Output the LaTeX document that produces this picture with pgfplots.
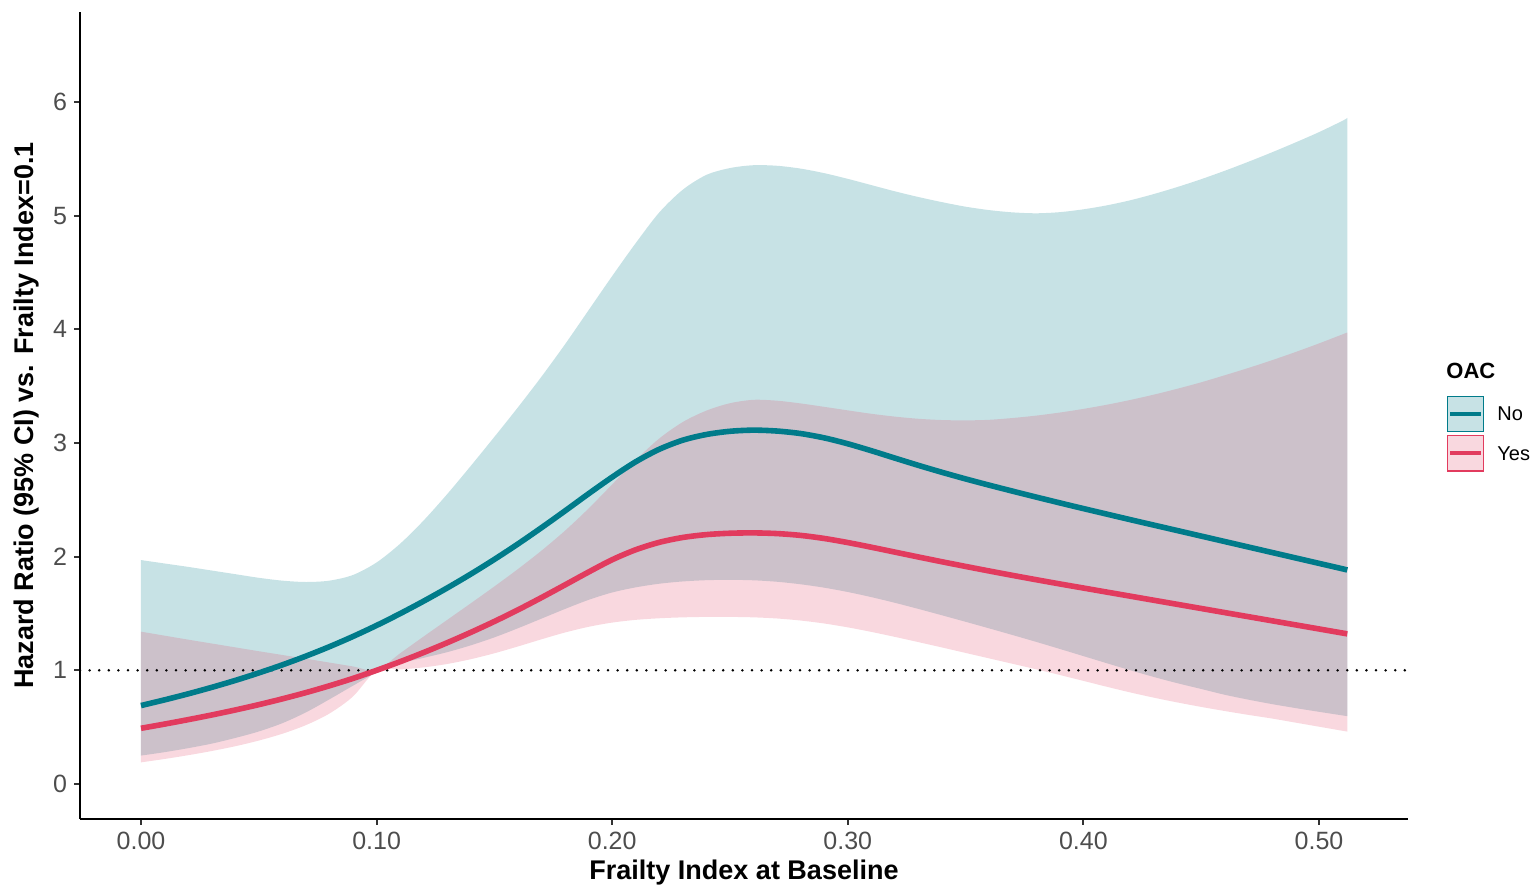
\documentclass[border=0pt]{standalone}
\usepackage{fontspec}
\setmainfont{Liberation Sans}
\usepackage{pgfplots}
\pgfplotsset{compat=1.18}
\usepackage{pgfplotstable}
\usepgfplotslibrary{fillbetween}

\definecolor{noline}{RGB}{0,123,138}
\definecolor{yesline}{RGB}{226,59,94}
\definecolor{ticktext}{RGB}{77,77,77}

% Hazard ratios with 95% CI by frailty index, for the two OAC groups
\pgfplotstableread{
x      no     nolo   nohi   yes    yeslo  yeshi
0.000  0.690  0.250  1.970  0.490  0.190  1.340
0.010  0.740  0.280  1.940  0.527  0.220  1.305
0.020  0.793  0.315  1.910  0.566  0.253  1.270
0.030  0.850  0.355  1.878  0.607  0.290  1.236
0.040  0.911  0.405  1.846  0.651  0.332  1.202
0.050  0.977  0.462  1.814  0.698  0.382  1.168
0.060  1.048  0.535  1.789  0.749  0.442  1.135
0.070  1.125  0.630  1.777  0.804  0.518  1.102
0.080  1.208  0.745  1.789  0.864  0.620  1.068
0.090  1.298  0.865  1.839  0.929  0.770  1.034
0.100  1.395  0.980  1.949  1.000  1.000  1.000
0.110  1.499  1.060  2.114  1.076  1.008  1.150
0.120  1.609  1.110  2.319  1.157  1.026  1.298
0.130  1.725  1.160  2.551  1.243  1.056  1.444
0.140  1.847  1.220  2.799  1.334  1.098  1.590
0.150  1.976  1.290  3.054  1.430  1.150  1.738
0.160  2.112  1.370  3.314  1.532  1.210  1.891
0.170  2.255  1.455  3.584  1.640  1.273  2.053
0.180  2.403  1.540  3.869  1.752  1.333  2.229
0.190  2.554  1.620  4.169  1.865  1.383  2.424
0.200  2.700  1.685  4.469  1.973  1.420  2.636
0.210  2.835  1.730  4.759  2.061  1.444  2.850
0.220  2.945  1.762  5.029  2.126  1.458  3.040
0.230  3.025  1.782  5.229  2.169  1.466  3.185
0.240  3.075  1.793  5.359  2.194  1.470  3.285
0.250  3.103  1.796  5.419  2.206  1.470  3.350
0.260  3.113  1.792  5.444  2.209  1.466  3.380
0.270  3.105  1.779  5.439  2.203  1.456  3.372
0.280  3.083  1.757  5.414  2.187  1.438  3.348
0.290  3.045  1.727  5.374  2.160  1.412  3.318
0.300  2.993  1.689  5.324  2.124  1.378  3.287
0.310  2.932  1.644  5.269  2.083  1.338  3.257
0.320  2.867  1.594  5.214  2.040  1.294  3.232
0.330  2.803  1.540  5.164  1.997  1.248  3.213
0.340  2.742  1.484  5.119  1.955  1.201  3.202
0.350  2.684  1.427  5.079  1.914  1.153  3.199
0.360  2.629  1.369  5.049  1.874  1.105  3.204
0.370  2.576  1.310  5.029  1.835  1.057  3.220
0.380  2.524  1.250  5.021  1.797  1.009  3.241
0.390  2.473  1.188  5.031  1.760  0.959  3.268
0.400  2.423  1.125  5.056  1.724  0.907  3.300
0.410  2.374  1.062  5.091  1.688  0.855  3.337
0.420  2.325  1.000  5.136  1.652  0.805  3.379
0.430  2.277  0.941  5.191  1.616  0.759  3.426
0.440  2.229  0.886  5.253  1.580  0.717  3.478
0.450  2.181  0.836  5.321  1.544  0.678  3.534
0.460  2.133  0.785  5.395  1.508  0.642  3.596
0.470  2.085  0.742  5.474  1.472  0.608  3.660
0.480  2.037  0.703  5.557  1.436  0.576  3.728
0.490  1.989  0.668  5.644  1.400  0.540  3.800
0.500  1.941  0.635  5.735  1.364  0.504  3.876
0.510  1.893  0.603  5.835  1.328  0.468  3.956
0.512  1.883  0.597  5.860  1.321  0.461  3.972
}\hrdata

\begin{document}
\begin{tikzpicture}
\begin{axis}[
  scale only axis,
  width=664pt, height=403.5pt,
  xmin=-0.02589, xmax=0.53778,
  ymin=-0.308, ymax=6.792,
  axis lines=left,
  axis line style={-, line width=1pt, black},
  tick align=outside,
  major tick length=3pt,
  tick style={line width=1pt, color=black!80},
  xtick={0,0.1,0.2,0.3,0.4,0.5},
  xticklabels={0.00,0.10,0.20,0.30,0.40,0.50},
  ytick={0,1,2,3,4,5,6},
  /pgf/number format/assume math mode=true,
  ticklabel style={font=\fontsize{12.5}{15}\selectfont, text=ticktext},
  xlabel={Frailty Index at Baseline},
  ylabel={Hazard Ratio (95\% CI) vs. Frailty Index=0.1},
  label style={font=\bfseries\fontsize{13.5}{16}\selectfont},
  xlabel style={at={(axis description cs:0.5,-0.0669)}, anchor=center},
  ylabel style={at={(axis description cs:-0.0399,0.5)}, anchor=center},
]
\coordinate (axtl) at (rel axis cs:0,1);

% confidence bands
\addplot[draw=none, name path=nolo, smooth] table[x=x, y=nolo] {\hrdata};
\addplot[draw=none, name path=nohi, smooth] table[x=x, y=nohi] {\hrdata};
\addplot[noline, fill opacity=0.22, draw=none] fill between[of=nolo and nohi];
\addplot[draw=none, name path=yeslo, smooth] table[x=x, y=yeslo] {\hrdata};
\addplot[draw=none, name path=yeshi, smooth] table[x=x, y=yeshi] {\hrdata};
\addplot[yesline, fill opacity=0.2, draw=none] fill between[of=yeslo and yeshi];

% reference line at HR = 1
\addplot[black, line width=1.4pt, line cap=round, dash pattern=on 0pt off 4.8pt]
  coordinates {(-0.02589,1) (0.53778,1)};

% point estimates
\addplot[noline, line width=2.8pt, smooth] table[x=x, y=no] {\hrdata};
\addplot[yesline, line width=2.8pt, smooth] table[x=x, y=yes] {\hrdata};
\end{axis}

% page frame and legend, in a pixel-like grid anchored at the top-left corner
\coordinate (O) at ([shift={(-40pt,6pt)}]axtl);
\begin{scope}[shift={(O)}, x=0.5pt, y=-0.5pt]
  \node[anchor=west, inner sep=0pt, font=\bfseries\fontsize{11}{13}\selectfont] at (1446,371) {OAC};
  \draw[noline, line width=0.8pt, fill=noline!22] (1447.5,396.5) rectangle (1483.5,431.5);
  \draw[noline, line width=2pt] (1450,414) -- (1481,414);
  \draw[yesline, line width=0.8pt, fill=yesline!20] (1447.5,435.5) rectangle (1483.5,471);
  \draw[yesline, line width=2pt] (1450,453.5) -- (1481,453.5);
  \node[anchor=west, inner sep=0pt, font=\fontsize{10}{12}\selectfont] at (1497,414) {No};
  \node[anchor=west, inner sep=0pt, font=\fontsize{10}{12}\selectfont] at (1497,454) {Yes};
  \pgfresetboundingbox
  \path (0,0) rectangle (1535,889);
\end{scope}
\end{tikzpicture}
\end{document}
